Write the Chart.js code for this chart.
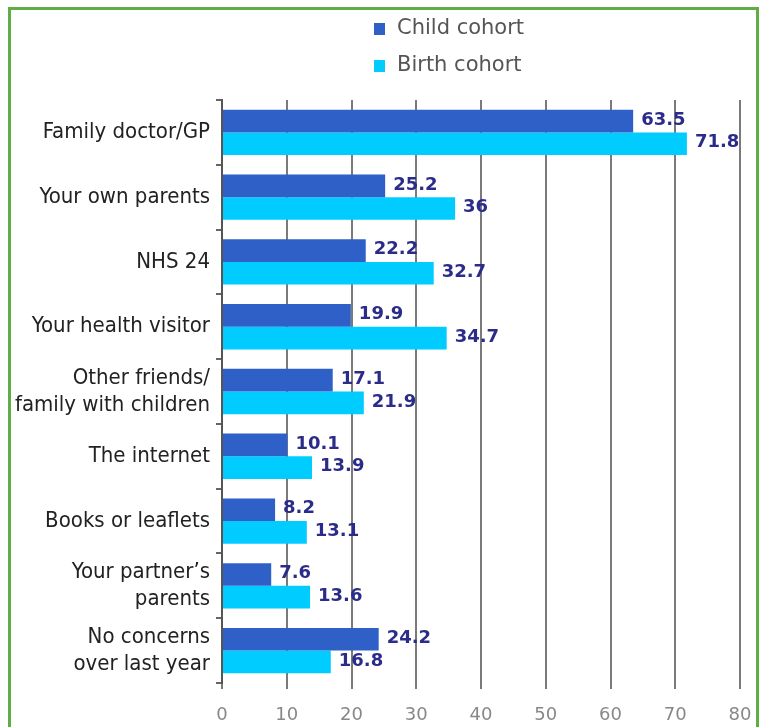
<!DOCTYPE html>
<html>
<head>
<meta charset="utf-8">
<title>Sources of advice</title>
<script src="https://cdn.jsdelivr.net/npm/chart.js@4.4.1/dist/chart.umd.min.js"></script>
<style>
    html, body { margin: 0; padding: 0; background: #fff; }
    body { width: 761px; height: 727px; position: relative; overflow: hidden; }
    .frame {
        position: absolute; left: 8px; top: 7px; width: 745px; height: 760px;
        border: 3px solid #5fae45;
    }
    .wrap { position: absolute; left: 0; top: 0; width: 761px; height: 727px; }
</style>
</head>
<body>
<div class="frame"></div>
<div class="wrap"><canvas id="chart"></canvas></div>
<script>
// Categories (top to bottom)
const categories = [
    'Family doctor/GP',
    'Your own parents',
    'NHS 24',
    'Your health visitor',
    ['Other friends/', 'family with children'],
    'The internet',
    'Books or leaflets',
    ['Your partner\u2019s', 'parents'],
    ['No concerns', 'over last year']
];

// Series values (%)
const childCohort = [63.5, 25.2, 22.2, 19.9, 17.1, 10.1, 8.2, 7.6, 24.2];
const birthCohort = [71.8, 36, 32.7, 34.7, 21.9, 13.9, 13.1, 13.6, 16.8];

// Axis ticks
const xTicks = [0, 10, 20, 30, 40, 50, 60, 70, 80];

// Legend stacked in two rows above the plot
const stackedLegend = {
    id: 'stackedLegend',
    afterDraw(chart) {
        const ctx = chart.ctx;
        ctx.save();
        ctx.font = '21px "DejaVu Sans", sans-serif';
        ctx.textBaseline = 'middle';
        ctx.textAlign = 'left';
        chart.data.datasets.forEach((ds, i) => {
            const y = 29 + i * 37;
            ctx.fillStyle = ds.backgroundColor;
            ctx.fillRect(374, y - 6, 11, 12);
            ctx.fillStyle = '#555';
            ctx.fillText(ds.label, 397, y);
        });
        ctx.restore();
    }
};

// Value labels at the end of each bar
const valueLabels = {
    id: 'valueLabels',
    afterDatasetsDraw(chart) {
        const ctx = chart.ctx;
        ctx.save();
        ctx.font = 'bold 18px "DejaVu Sans", sans-serif';
        ctx.fillStyle = '#2b2b8a';
        ctx.textBaseline = 'middle';
        ctx.textAlign = 'left';
        chart.data.datasets.forEach((ds, i) => {
            chart.getDatasetMeta(i).data.forEach((bar, j) => {
                ctx.fillText(String(ds.data[j]), bar.x + 8, bar.y - 1);
            });
        });
        ctx.restore();
    }
};

new Chart(document.getElementById('chart'), {
    type: 'bar',
    data: {
        labels: categories,
        datasets: [
            {
                label: 'Child cohort',
                data: childCohort,
                backgroundColor: '#2f60c8',
                categoryPercentage: 0.7,
                barPercentage: 1
            },
            {
                label: 'Birth cohort',
                data: birthCohort,
                backgroundColor: '#00ccff',
                categoryPercentage: 0.7,
                barPercentage: 1
            }
        ]
    },
    options: {
        indexAxis: 'y',
        responsive: true,
        maintainAspectRatio: false,
        animation: false,
        layout: { padding: { top: 100, right: 21, left: 0, bottom: 0 } },
        plugins: {
            legend: { display: false },
            tooltip: { enabled: false }
        },
        scales: {
            x: {
                min: xTicks[0],
                max: xTicks[xTicks.length - 1],
                afterFit: s => {
                    s.height = 44;
                    s.paddingLeft = 0;
                    s.paddingRight = 0;
                },
                afterBuildTicks: s => { s.ticks = xTicks.map(v => ({ value: v })); },
                grid: { color: '#7a7a7a', lineWidth: 2, tickLength: 6 },
                border: { display: false },
                ticks: {
                    color: '#888',
                    padding: 16,
                    font: { family: '"DejaVu Sans", sans-serif', size: 18 }
                }
            },
            y: {
                afterFit: s => { s.width = 222; },
                grid: { drawOnChartArea: false, color: '#666', lineWidth: 2, tickLength: 6 },
                border: { display: true, color: '#555', width: 2 },
                ticks: {
                    color: '#222',
                    padding: 6,
                    font: { family: '"DejaVu Sans Condensed", "Liberation Sans Narrow", sans-serif', size: 22, lineHeight: 1.24 }
                }
            }
        }
    },
    plugins: [stackedLegend, valueLabels]
});
</script>
</body>
</html>
